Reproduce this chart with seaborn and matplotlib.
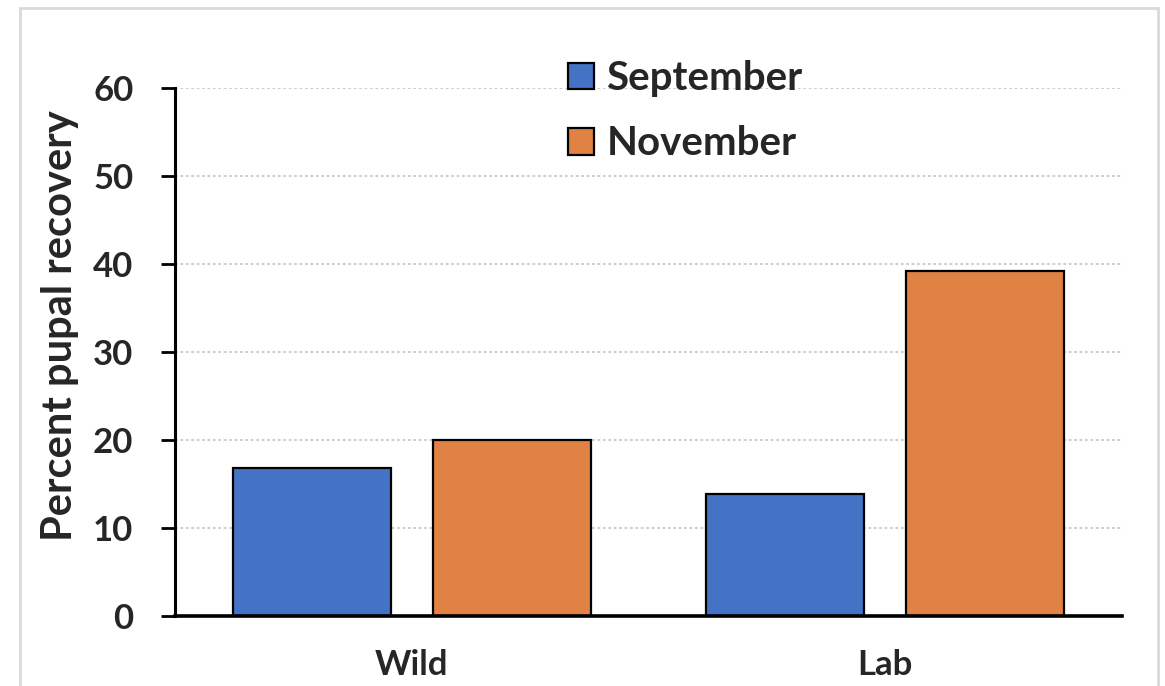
import pandas as pd
import numpy as np
import matplotlib.pyplot as plt
import seaborn as sns
from matplotlib.patches import Rectangle

sources = ['Wild', 'Lab']
months = ['September', 'November']
september = [16.8, 13.8]
november = [20.0, 39.2]

df = pd.DataFrame({
    'Source': sources * 2,
    'Month': [months[0]] * 2 + [months[1]] * 2,
    'Recovery': september + november,
})

sns.set_style('white')
plt.rcParams['font.family'] = ['Lato', 'DejaVu Sans']
plt.rcParams['font.weight'] = 'bold'

fig = plt.figure(figsize=(11.65, 6.86), dpi=100)
ax = fig.add_axes([175 / 1165, 1 - 615.7 / 686, (1122 - 175) / 1165, (615.7 - 88) / 686])

sns.barplot(data=df, x='Source', y='Recovery', hue='Month', order=sources, hue_order=months,
            palette=['#4472C4', '#E08244'], saturation=1, width=0.844, gap=0.21,
            edgecolor='black', linewidth=1.6, errorbar=None, ax=ax)

ax.set_xlim(-0.5, 1.5)
ax.set_ylim(0, 60)
ax.set_yticks(np.arange(0, 61, 10))
ax.set_yticklabels([str(v) for v in range(0, 61, 10)], fontsize=25, fontweight='bold')
ax.set_xticks([0, 1])
ax.set_xticklabels(sources, fontsize=25, fontweight='bold')
ax.tick_params(axis='y', direction='out', length=10, width=2, color='black', left=True, pad=20)
ax.tick_params(axis='x', length=0, pad=24)
ax.set_xlabel(None)
ax.set_ylabel('Percent pupal recovery', fontsize=30, fontweight='bold')
ax.yaxis.set_label_coords(79 / 1165, 1 - 326 / 686, transform=fig.transFigure)

for y in range(10, 61, 10):
    ax.axhline(y, color='#c8c8c8', linestyle=(0, (1.5, 1.5)), linewidth=1.3, zorder=0)

for s in ['top', 'right']:
    ax.spines[s].set_visible(False)
ax.spines['left'].set_linewidth(2.2)
ax.spines['bottom'].set_linewidth(2.6)
ax.spines['left'].set_color('black')
ax.spines['bottom'].set_color('black')

leg = ax.legend(loc='upper left', bbox_to_anchor=(552 / 1165, 1 - 44 / 686), bbox_transform=fig.transFigure,
                frameon=False, fontsize=29, handlelength=0.65, handleheight=0.65, handletextpad=0.3,
                labelspacing=0.7, borderaxespad=0)
for t in leg.get_texts():
    t.set_fontweight('bold')

fig.patches.append(Rectangle((20 / 1165, -0.05), (1158 - 20) / 1165, 1.05 - 8 / 686,
                             transform=fig.transFigure, fill=False, edgecolor='#d9d9d9', linewidth=2))

fig.savefig('out.png', dpi=100)
